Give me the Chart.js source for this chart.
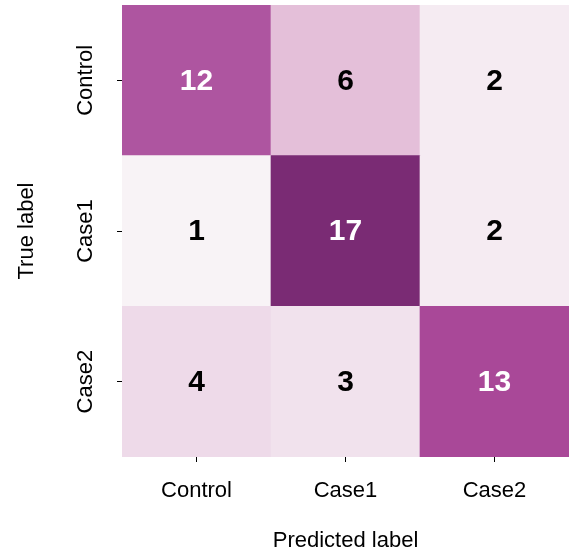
<!DOCTYPE html>
<html>
<head>
<meta charset="utf-8">
<script src="https://cdn.jsdelivr.net/npm/chart.js@4/dist/chart.umd.min.js"></script>
<style>
  html, body { margin: 0; padding: 0; background: #fff; }
  #wrap { width: 569px; height: 554px; position: relative; }
</style>
</head>
<body>
<div id="wrap"><canvas id="cm"></canvas></div>
<script>
/* matriz de confusão: linhas = rótulo verdadeiro, colunas = previsto */
const predictedLabels = ['Control', 'Case1', 'Case2'];
const trueLabels = ['Control', 'Case1', 'Case2'];
const rowControl = [12, 6, 2];
const rowCase1 = [1, 17, 2];
const rowCase2 = [4, 3, 13];
const yTickValues = [2.5, 1.5, 0.5];

(function () {
  'use strict';

  const FONT = '"Liberation Sans", Arial, Helvetica, sans-serif';

  // escala de cor (valor -> rgb), clara para escura
  const stops = [
    [1, [248, 243, 246]],
    [4, [238, 218, 233]],
    [6, [228, 191, 217]],
    [12, [174, 85, 160]],
    [13, [169, 72, 152]],
    [17, [122, 43, 116]]
  ];
  function colorFor(v) {
    for (let i = 0; i < stops.length - 1; i++) {
      const a = stops[i], b = stops[i + 1];
      if (v <= b[0]) {
        const t = Math.max(0, (v - a[0]) / (b[0] - a[0]));
        const c = a[1].map(function (x, k) { return Math.round(x + (b[1][k] - x) * t); });
        return 'rgb(' + c.join(',') + ')';
      }
    }
    return 'rgb(' + stops[stops.length - 1][1].join(',') + ')';
  }

  // empilhado de baixo para cima: Case2, Case1, Control
  const rows = [
    { label: trueLabels[2], counts: rowCase2 },
    { label: trueLabels[1], counts: rowCase1 },
    { label: trueLabels[0], counts: rowControl }
  ];

  const datasets = rows.map(function (r) {
    return {
      label: r.label,
      counts: r.counts,
      data: r.counts.map(function () { return 1; }),
      backgroundColor: r.counts.map(colorFor),
      borderWidth: 0,
      barPercentage: 1,
      categoryPercentage: 1
    };
  });

  const cellText = {
    id: 'cellText',
    afterDatasetsDraw: function (chart) {
      const ctx = chart.ctx;
      ctx.save();
      ctx.font = 'bold 30px ' + FONT;
      ctx.textAlign = 'center';
      ctx.textBaseline = 'middle';
      chart.data.datasets.forEach(function (ds, di) {
        chart.getDatasetMeta(di).data.forEach(function (el, i) {
          const v = ds.counts[i];
          ctx.fillStyle = v >= 10 ? '#ffffff' : '#000000';
          ctx.fillText(String(v), el.x, (el.y + el.base) / 2 + 1);
        });
      });
      ctx.restore();
    }
  };

  new Chart(document.getElementById('cm'), {
    type: 'bar',
    data: { labels: predictedLabels, datasets: datasets },
    options: {
      responsive: true,
      maintainAspectRatio: false,
      animation: false,
      layout: { padding: { top: 5, right: 0, left: 0, bottom: 0 } },
      plugins: { legend: { display: false }, tooltip: { enabled: false } },
      scales: {
        x: {
          stacked: true,
          afterFit: function (s) { s.height = 97; s.paddingLeft = 0; s.paddingRight = 0; },
          grid: { display: true, offset: false, drawOnChartArea: false, drawTicks: true, tickLength: 5, color: '#000' },
          border: { display: false },
          ticks: { color: '#000', font: { size: 22, family: FONT }, padding: 16, maxRotation: 0 },
          title: { display: true, text: 'Predicted label', color: '#000', font: { size: 22, family: FONT }, padding: { top: 0, bottom: 0 } }
        },
        y: {
          stacked: true,
          min: 0,
          max: 3,
          afterFit: function (s) { s.width = 122; s.paddingTop = 0; s.paddingBottom = 0; },
          afterBuildTicks: function (s) {
            s.ticks = yTickValues.map(function (v) { return { value: v }; });
          },
          grid: { display: true, drawOnChartArea: false, drawTicks: true, tickLength: 5, color: '#000' },
          border: { display: false },
          ticks: {
            color: '#000',
            font: { size: 22, family: FONT },
            minRotation: 90,
            maxRotation: 90,
            crossAlign: 'center',
            padding: -4,
            callback: function (v) {
              const idx = yTickValues.indexOf(v);
              return idx >= 0 ? trueLabels[idx] : '';
            }
          },
          title: { display: true, text: 'True label', color: '#000', font: { size: 22, family: FONT }, padding: { top: 14, bottom: 0 } }
        }
      }
    },
    plugins: [cellText]
  });
})();
</script>
</body>
</html>
